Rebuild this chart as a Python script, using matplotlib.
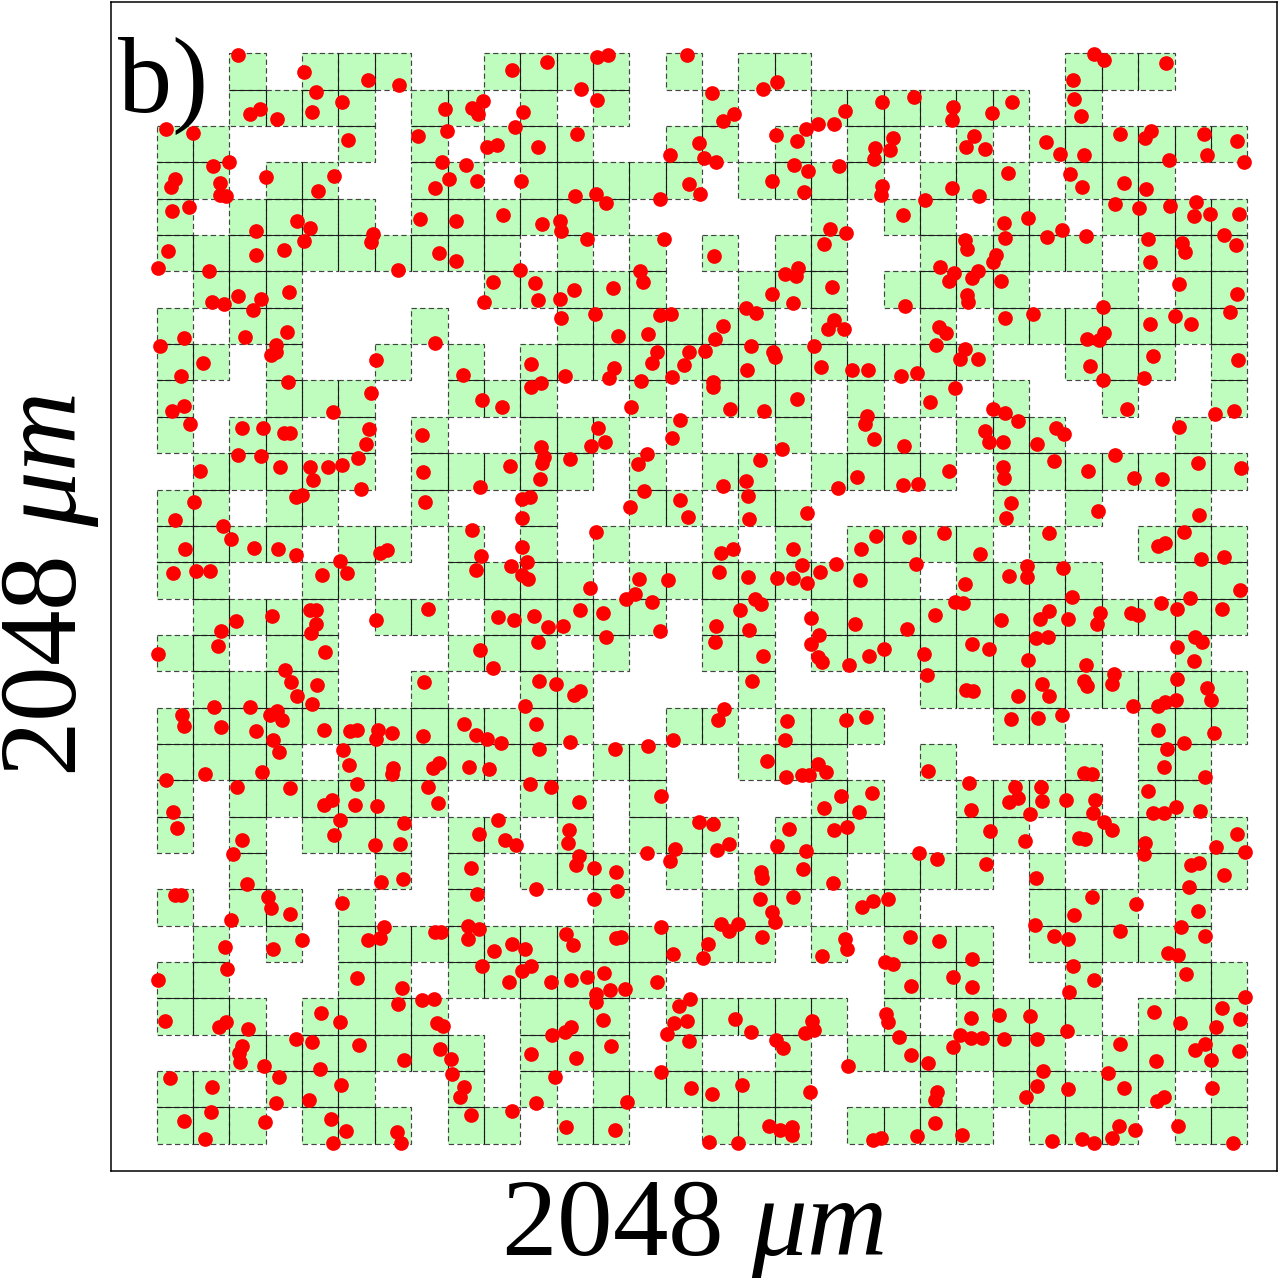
import matplotlib
matplotlib.use("Agg")
import matplotlib.pyplot as plt
from matplotlib.collections import LineCollection
from matplotlib.patches import Rectangle

plt.rcParams["font.family"] = ["Liberation Serif", "DejaVu Serif"]
plt.rcParams["mathtext.fontset"] = "custom"
plt.rcParams["mathtext.rm"] = "Liberation Serif"
plt.rcParams["mathtext.it"] = "Liberation Serif:italic"

# ── Occupied grid cells: one list of column numbers per row, top row first ────
OCCUPIED = [
    [2, 4, 5, 6, 9, 10, 11, 12, 14, 16, 17, 25, 26, 27],
    [2, 3, 4, 5, 7, 8, 10, 12, 15, 18, 19, 20, 21, 22, 23, 25],
    [0, 1, 5, 7, 9, 10, 11, 14, 15, 17, 19, 20, 22, 24, 25, 26, 27, 28, 29],
    [0, 1, 3, 4, 7, 8, 10, 11, 12, 13, 14, 16, 17, 18, 19, 21, 22, 23, 25, 26, 27],
    [0, 2, 3, 4, 5, 7, 8, 9, 10, 11, 12, 18, 20, 21, 23, 24, 26, 27, 28, 29],
    [0, 1, 2, 3, 4, 5, 6, 7, 8, 9, 11, 13, 15, 17, 18, 21, 22, 23, 24, 25, 27, 28, 29],
    [1, 2, 3, 9, 10, 11, 12, 13, 16, 17, 18, 20, 21, 22, 23, 26, 28, 29],
    [0, 2, 3, 7, 11, 12, 13, 14, 15, 16, 18, 21, 23, 24, 25, 26, 27, 28, 29],
    [0, 1, 3, 6, 8, 10, 11, 12, 13, 14, 15, 16, 17, 18, 19, 20, 21, 22, 25, 26, 27, 29],
    [0, 3, 4, 5, 8, 9, 10, 13, 15, 16, 17, 19, 21, 23, 26, 29],
    [0, 2, 3, 5, 7, 10, 11, 12, 14, 17, 19, 20, 22, 23, 24, 28],
    [1, 2, 3, 4, 5, 7, 8, 9, 10, 11, 13, 15, 16, 18, 19, 20, 21, 23, 24, 25, 26, 27, 28, 29],
    [0, 1, 3, 4, 7, 10, 13, 14, 16, 17, 23, 25, 28],
    [0, 1, 2, 3, 5, 6, 8, 10, 12, 15, 17, 19, 20, 21, 22, 24, 27, 28, 29],
    [0, 1, 4, 5, 8, 9, 10, 11, 13, 14, 15, 16, 17, 18, 19, 20, 22, 23, 24, 25, 28, 29],
    [1, 2, 3, 4, 6, 7, 9, 10, 11, 12, 13, 15, 16, 18, 19, 20, 21, 22, 23, 24, 25, 26, 27, 28, 29],
    [0, 1, 3, 4, 8, 9, 10, 12, 15, 16, 18, 19, 20, 21, 22, 23, 24, 25, 28],
    [1, 2, 3, 4, 7, 10, 11, 16, 21, 22, 23, 24, 25, 26, 27, 28, 29],
    [0, 1, 2, 3, 4, 5, 6, 7, 8, 9, 10, 11, 14, 15, 17, 18, 19, 23, 24, 27, 28, 29],
    [0, 1, 2, 3, 5, 6, 7, 8, 9, 10, 12, 13, 16, 17, 18, 21, 25, 27, 28],
    [0, 2, 3, 4, 5, 6, 7, 10, 11, 13, 18, 19, 22, 23, 24, 25, 27, 28],
    [0, 2, 4, 5, 6, 8, 9, 11, 13, 14, 15, 17, 18, 19, 22, 23, 25, 26, 27, 29],
    [2, 6, 8, 10, 11, 12, 14, 16, 17, 18, 20, 21, 22, 24, 27, 28, 29],
    [0, 2, 3, 5, 8, 12, 15, 16, 17, 19, 20, 24, 25, 26, 28],
    [1, 3, 5, 6, 7, 8, 9, 10, 11, 12, 13, 14, 15, 16, 18, 20, 21, 22, 24, 25, 26, 27, 28],
    [0, 1, 5, 6, 8, 9, 10, 11, 12, 13, 20, 21, 22, 25, 28, 29],
    [0, 1, 2, 4, 5, 6, 7, 10, 11, 12, 14, 15, 16, 17, 18, 20, 22, 23, 24, 25, 27, 28, 29],
    [2, 3, 4, 5, 6, 7, 8, 10, 11, 12, 14, 17, 19, 20, 21, 22, 23, 24, 26, 27, 28, 29],
    [0, 1, 3, 4, 5, 8, 10, 12, 13, 14, 15, 16, 17, 21, 23, 24, 25, 26, 27, 29],
    [0, 1, 2, 4, 5, 6, 8, 9, 11, 12, 15, 16, 17, 19, 20, 21, 22, 24, 25, 26, 28, 29],
]

# ── Particle positions, sorted into nine blocks, in thirds of a unit per block ─
PTS_NW = [(265,46),(462,97),(653,121),(746,135),(1085,91),(499,155),(577,186),(486,216),(329,207),(299,223),
          (381,238),(885,208),(965,205),(983,222),(998,183),(48,266),(130,280),(594,301),(805,287),(891,273),
          (1095,261),(1012,320),(1042,315),(190,377),(237,365),(875,367),(948,374),(75,418),(64,440),(347,411),
          (552,407),(211,428),(210,466),(229,467),(504,452),(897,416),(856,445),(981,424),(65,513),(117,500),
          (441,542),(479,565),(319,574),(463,604),(810,538),(917,542),(1058,525),(670,581),(662,607),(54,632),
          (319,644),(402,630),(868,640),(918,663),(24,684),(178,693),(745,691),(1029,726),(418,756),(264,767),
          (334,777),(187,785),(221,791),(308,811),(1002,785),(412,876),(103,893),(284,892),(31,919),(377,915),
          (377,936),(363,945),(855,910),(158,970),(678,959),(92,1009),(939,1004),(415,1025),(664,1060),(997,1079),
          (1057,1101),(103,1097)]
PTS_N = [(110,65),(260,52),(295,45),(530,44),(213,146),(262,180),(607,159),(759,148),(800,127),(40,216),
         (640,242),(672,221),(1005,213),(925,253),(973,253),(888,268),(200,281),(84,322),(798,286),(861,304),
         (566,310),(480,344),(581,355),(617,365),(1095,325),(1093,358),(853,376),(895,392),(988,377),(34,424),
         (785,424),(882,456),(536,432),(569,461),(449,476),(196,467),(257,463),(289,490),(97,551),(150,542),
         (153,572),(961,567),(1007,580),(231,596),(463,598),(943,611),(611,647),(31,689),(391,694),(398,727),
         (826,702),(865,684),(857,707),(74,730),(191,750),(309,745),(966,741),(84,781),(150,778),(786,763),
         (849,789),(708,803),(737,819),(154,833),(255,823),(450,824),(483,822),(640,858),(973,840),(953,866),
         (1003,866),(324,889),(413,882),(614,898),(723,917),(912,918),(440,935),(537,936),(586,933),(788,936),
         (795,950),(62,973),(425,968),(522,976),(313,985),(712,990),(932,980),(1026,991),(1073,991),(165,1007),
         (297,1015),(392,1022),(485,1012),(93,1030),(64,1042),(608,1025),(610,1040),(860,1078),(362,1101),(660,1108)]
PTS_NE = [(657,42),(686,60),(873,69),(593,119),(597,177),(618,229),(118,170),(22,187),(412,185),(233,200),
          (230,240),(350,219),(736,282),(827,272),(810,293),(987,282),(1087,304),(53,293),(45,331),(298,288),
          (274,322),(331,327),(513,307),(555,342),(626,344),(881,360),(997,346),(1106,367),(400,400),(585,401),
          (22,438),(17,465),(230,445),(622,440),(747,429),(813,447),(313,468),(151,479),(721,492),(792,505),
          (886,498),(964,485),(84,525),(459,535),(387,549),(958,529),(1004,522),(1092,522),(560,569),(517,592),
          (632,587),(391,594),(269,600),(276,627),(819,598),(922,608),(930,637),(1048,585),(1084,614),(362,645),
          (355,667),(825,667),(196,681),(238,700),(221,722),(308,692),(292,715),(378,723),(911,732),(277,764),
          (278,787),(1086,762),(89,799),(685,801),(1065,817),(390,833),(473,821),(901,829),(825,853),(947,851),
          (192,861),(213,880),(686,879),(637,897),(671,900),(183,915),(269,926),(255,956),(308,956),(835,947),
          (1090,959),(645,978),(125,998),(79,1007),(684,1020),(808,1015),(240,1044),(164,1087),(353,1108),(755,1107)]
PTS_W = [(67,17),(548,21),(121,57),(277,69),(339,69),(401,85),(421,83),(657,72),(816,90),(649,118),
         (263,150),(334,152),(624,160),(151,198),(391,187),(481,187),(533,186),(577,181),(818,201),(1080,182),
         (489,225),(633,251),(991,246),(437,276),(457,270),(131,292),(826,290),(74,345),(219,364),(967,375),
         (244,401),(313,430),(383,432),(106,433),(437,451),(690,445),(711,436),(993,453),(571,469),(70,505),
         (138,499),(181,497),(590,505),(516,511),(979,496),(1084,484),(835,613),(481,615),(497,615),(366,633),
         (257,648),(677,644),(1045,636),(1091,645),(499,657),(484,683),(213,678),(205,722),(24,746),(526,742),
         (991,735),(1029,788),(405,796),(424,832),(502,840),(823,830),(442,872),(485,896),(192,907),(301,907),
         (97,931),(380,918),(361,930),(395,946),(941,957),(101,963),(214,967),(318,977),(521,975),(600,978),
         (621,974),(685,974),(677,1003),(727,985),(820,992),(978,991),(1011,1001),(1054,1015),(368,1006),(388,1041),
         (578,1036),(596,1081),(730,1090),(849,1089),(868,1075),(958,1085),(1018,1091)]
PTS_C = [(511,44),(1070,33),(1066,58),(263,69),(286,111),(486,100),(1092,103),(93,127),(242,123),(815,132),
         (101,155),(180,163),(95,175),(410,148),(384,178),(750,164),(640,243),(708,228),(89,221),(1041,216),
         (985,250),(402,259),(713,272),(35,282),(60,275),(511,285),(359,305),(534,337),(718,343),(890,325),
         (35,340),(257,380),(1097,394),(1052,432),(848,432),(668,433),(634,445),(37,427),(52,472),(876,480),
         (978,478),(931,501),(35,509),(55,521),(626,502),(714,517),(801,518),(849,518),(892,535),(386,523),
         (474,526),(1051,524),(239,550),(375,566),(349,582),(425,591),(736,582),(752,596),(690,615),(211,616),
         (278,625),(73,632),(904,639),(1035,656),(113,665),(160,664),(617,662),(716,675),(450,678),(928,691),
         (288,697),(83,710),(616,710),(904,716),(758,754),(925,755),(935,771),(1077,752),(1016,780),(87,827),
         (138,837),(727,829),(211,858),(193,870),(46,904),(642,913),(623,946),(77,956),(832,947),(1009,945),
         (1067,936),(180,1012),(489,1004),(825,1005),(86,1031),(316,1032),(413,1023),(770,1067),(925,1077),(761,18)]
PTS_E = [(390,24),(429,48),(1021,28),(1077,19),(331,77),(543,70),(567,88),(913,65),(343,110),(383,111),
         (487,116),(88,124),(720,150),(537,168),(970,173),(384,186),(387,220),(223,197),(638,197),(778,220),
         (860,223),(1099,190),(84,239),(128,237),(409,294),(393,338),(670,317),(973,329),(102,396),(207,383),
         (521,384),(926,381),(870,415),(848,424),(315,448),(977,461),(1047,455),(124,477),(457,483),(455,516),
         (401,512),(565,489),(269,538),(591,575),(1096,555),(944,580),(240,592),(263,594),(859,594),(907,613),
         (1040,611),(179,631),(377,645),(523,617),(494,643),(578,642),(674,623),(667,656),(767,624),(790,631),
         (95,672),(483,700),(519,696),(959,697),(982,712),(292,717),(341,732),(28,733),(147,747),(907,727),
         (458,765),(958,767),(633,780),(156,809),(717,807),(712,836),(907,822),(626,827),(636,844),(501,837),
         (273,855),(294,859),(995,849),(428,873),(523,873),(1009,885),(773,902),(903,884),(870,890),(850,904),
         (560,929),(409,942),(490,938),(848,974),(1017,985),(928,1014),(875,1032),(868,1087)]
PTS_SW = [(725,12),(336,5),(165,13),(48,30),(260,50),(420,55),(621,41),(835,51),(547,90),(523,105),
          (615,106),(682,107),(864,100),(70,126),(569,151),(80,174),(761,158),(553,194),(276,209),(676,226),
          (750,221),(248,251),(988,193),(1043,150),(1065,211),(1099,226),(962,295),(291,342),(694,337),(759,328),
          (75,375),(93,374),(354,380),(364,413),(420,433),(576,398),(980,372),(243,449),(702,470),(691,503),
          (654,511),(855,487),(873,485),(953,468),(986,478),(953,506),(456,511),(368,537),(226,530),(1085,522),
          (1031,543),(230,596),(996,587),(23,631),(621,624),(757,654),(1077,637),(743,702),(817,689),(851,687),
          (514,729),(571,756),(44,752),(862,760),(878,769),(229,757),(208,771),(293,776),(438,808),(486,816),
          (627,825),(871,836),(275,827),(266,850),(270,877),(761,869),(904,866),(343,889),(510,896),(906,911),
          (60,923),(187,952),(387,922),(574,946),(941,952),(930,981),(379,1000),(478,991),(182,1025),(101,1053),
          (345,1055),(964,1035),(1085,1023),(542,1047),(587,1082),(741,1086),(165,1107),(550,1118),(753,1120)]
PTS_S = [(59,41),(122,50),(208,95),(454,79),(827,21),(877,14),(897,16),(948,5),(993,77),(941,113),
         (1085,70),(1047,127),(567,157),(610,162),(837,176),(176,181),(173,218),(973,181),(1012,171),(494,238),
         (411,248),(620,240),(657,223),(800,227),(888,243),(207,258),(198,285),(481,273),(252,294),(319,305),
         (878,296),(753,306),(755,325),(969,338),(77,358),(320,362),(251,386),(749,388),(849,382),(1056,411),
         (1090,392),(787,426),(794,457),(454,470),(634,461),(683,461),(658,482),(169,491),(188,526),(333,500),
         (318,505),(757,501),(595,521),(1005,506),(1010,538),(44,537),(490,553),(580,563),(936,557),(62,587),
         (37,604),(283,610),(232,622),(183,631),(122,636),(441,637),(346,658),(300,661),(257,672),(258,696),
         (540,686),(506,707),(280,751),(675,747),(492,758),(532,752),(905,754),(912,780),(884,789),(183,772),
         (164,786),(125,795),(724,785),(472,792),(537,814),(798,811),(819,835),(304,827),(64,853),(198,863),
         (1013,887),(453,907),(134,921),(696,944),(543,954),(605,972),(899,967),(78,1000),(350,995),(168,1071),
         (315,1080),(777,1068),(845,1072),(811,1080),(847,1094),(1090,1110),(596,1116),(685,1118)]
PTS_SE = [(158,2),(628,8),(650,12),(990,20),(281,40),(419,50),(499,50),(430,85),(401,97),(501,92),
          (574,91),(660,89),(820,64),(902,111),(287,121),(466,131),(653,128),(833,129),(867,129),(976,123),
          (688,155),(711,180),(345,182),(612,205),(630,207),(449,214),(811,218),(806,253),(1086,193),(1024,231),
          (1110,246),(131,250),(185,267),(332,282),(949,284),(973,278),(1047,315),(483,325),(943,352),(651,381),
          (40,388),(782,402),(597,436),(969,424),(481,466),(917,472),(991,499),(104,502),(192,514),(536,498),
          (580,508),(735,482),(878,550),(908,554),(30,577),(53,582),(291,568),(595,587),(934,613),(234,622),
          (658,630),(107,647),(292,652),(582,666),(1110,682),(838,727),(1040,715),(33,732),(39,757),(373,735),
          (465,738),(288,744),(1094,748),(916,760),(1024,771),(576,784),(254,796),(288,805),(322,805),(388,806),
          (487,806),(73,802),(234,831),(734,823),(990,823),(961,840),(1091,843),(1009,869),(842,874),(107,855),
          (160,878),(503,902),(699,909),(487,949),(578,958),(747,954),(1011,953),(187,965),(181,990),(452,980),
          (866,981),(845,992),(179,1058),(910,1068),(731,1068),(780,1080),(712,1103),(127,1098),(261,1095),(18,1103),
          (531,1112),(622,1107),(658,1120),(1074,1120)]

# block lists with the data origin of each block
BLOCKS = [(PTS_NW, 150, 40), (PTS_N, 510, 40), (PTS_NE, 875, 40),
          (PTS_W, 150, 405), (PTS_C, 510, 405), (PTS_E, 875, 405),
          (PTS_SW, 150, 770), (PTS_S, 510, 770), (PTS_SE, 875, 770)]

GRID_X0, GRID_Y0 = 156.7, 53.3
CELL = 36.35

fig = plt.figure(figsize=(12.8, 12.8), dpi=100)
ax = fig.add_axes([111 / 1280, 1 - 1171 / 1280, 1166 / 1280, 1169 / 1280])
ax.set_xlim(111, 1277)
ax.set_ylim(1171, 2)
ax.set_xticks([])
ax.set_yticks([])
for s in ax.spines.values():
    s.set_linewidth(1.1)

# cells: filled squares first, then a dashed outline around each one
for row, cols in enumerate(OCCUPIED):
    for col in cols:
        ax.add_patch(Rectangle((GRID_X0 + col * CELL, GRID_Y0 + row * CELL), CELL, CELL,
                               facecolor="#bffdbf", edgecolor="none", zorder=1))
for row, cols in enumerate(OCCUPIED):
    for col in cols:
        ax.add_patch(Rectangle((GRID_X0 + col * CELL, GRID_Y0 + row * CELL), CELL, CELL,
                               facecolor="none", edgecolor="#444444", linewidth=0.85,
                               linestyle=(0, (4.5, 2.8)), zorder=2))

# edges shared by two neighbouring cells read as solid lines
shared = []
for row, cols in enumerate(OCCUPIED):
    below = OCCUPIED[row + 1] if row + 1 < len(OCCUPIED) else []
    for col in cols:
        left, top = GRID_X0 + col * CELL, GRID_Y0 + row * CELL
        if col + 1 in cols:
            shared.append([(left + CELL, top), (left + CELL, top + CELL)])
        if col in below:
            shared.append([(left, top + CELL), (left + CELL, top + CELL)])
ax.add_collection(LineCollection(shared, colors="#1a1a1a", linewidths=0.7, zorder=2))

xs, ys = [], []
for pts, x0, y0 in BLOCKS:
    xs += [x0 + p[0] / 3 for p in pts]
    ys += [y0 + p[1] / 3 for p in pts]
ax.scatter(xs, ys, s=112, color="#ff0000", linewidths=0, zorder=3, clip_on=False)

ax.text(118, 112, "b)", fontsize=78, color="black", ha="left", va="baseline", zorder=4)

fig.text(693 / 1280, 1 - 1255 / 1280, r"2048 $\mathit{\mu m}$", fontsize=80,
         ha="center", va="baseline")
fig.text(76 / 1280, 1 - 585 / 1280, r"2048 $\mathit{\mu m}$", fontsize=80,
         rotation=90, ha="center", va="baseline", rotation_mode="anchor")

fig.savefig("out.png", dpi=100)
